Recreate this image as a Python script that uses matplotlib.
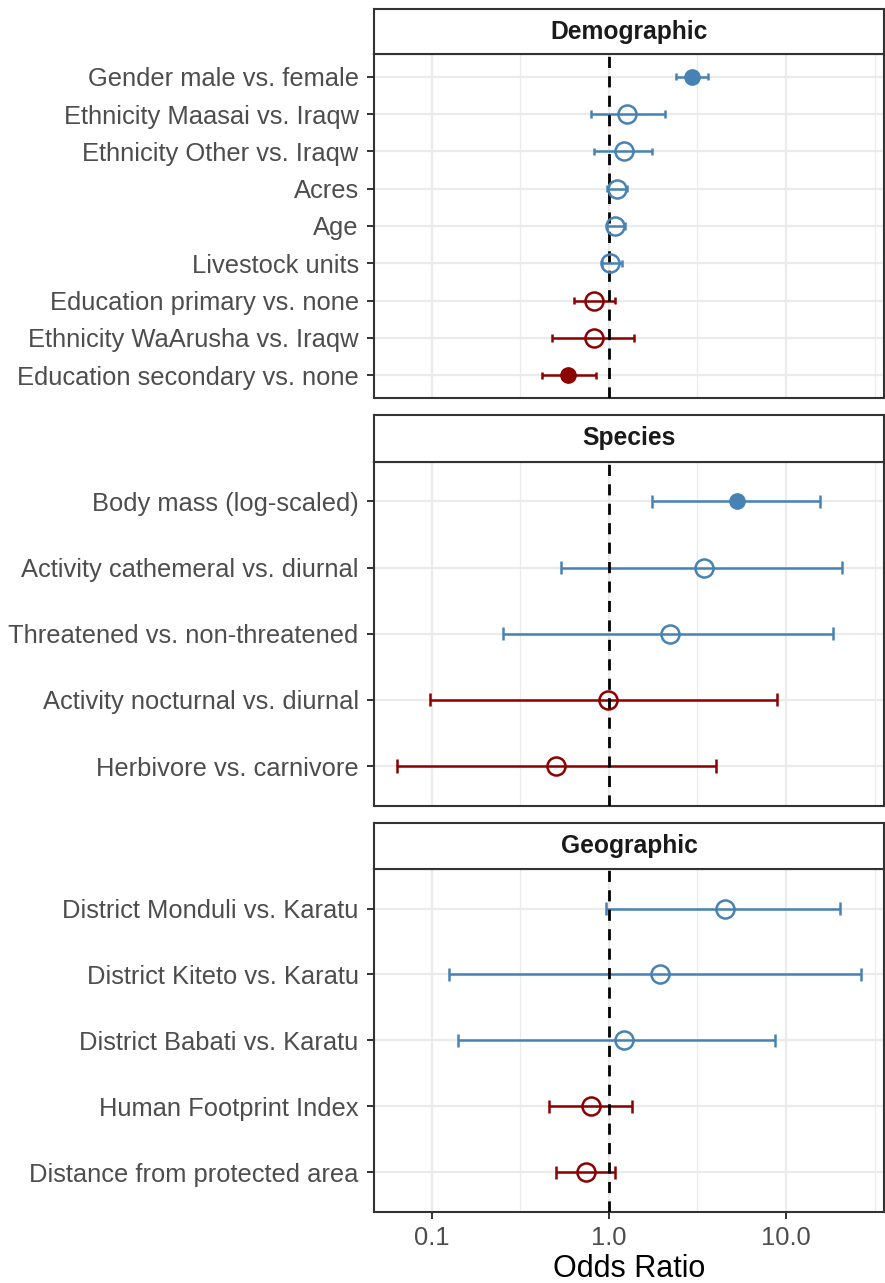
import matplotlib.pyplot as plt
from matplotlib.ticker import FixedLocator, NullFormatter
import numpy as np

plt.rcParams['font.family'] = ['Liberation Sans', 'DejaVu Sans']

# panel titles
groups = ['Demographic', 'Species', 'Geographic']

# labels listed top to bottom within each panel
demo_labels = ['Gender male vs. female', 'Ethnicity Maasai vs. Iraqw', 'Ethnicity Other vs. Iraqw',
               'Acres', 'Age', 'Livestock units', 'Education primary vs. none',
               'Ethnicity WaArusha vs. Iraqw', 'Education secondary vs. none']
demo_or = [2.95, 1.27, 1.21, 1.11, 1.09, 1.02, 0.83, 0.82, 0.59]
demo_lo = [2.39, 0.79, 0.82, 0.98, 0.98, 0.91, 0.635, 0.48, 0.417]
demo_hi = [3.65, 2.07, 1.76, 1.26, 1.23, 1.18, 1.09, 1.38, 0.85]
demo_sig = [True, False, False, False, False, False, False, False, True]

spec_labels = ['Body mass (log-scaled)', 'Activity cathemeral vs. diurnal',
               'Threatened vs. non-threatened', 'Activity nocturnal vs. diurnal',
               'Herbivore vs. carnivore']
spec_or = [5.27, 3.46, 2.20, 0.995, 0.505]
spec_lo = [1.75, 0.536, 0.252, 0.098, 0.0634]
spec_hi = [15.6, 20.6, 18.4, 8.86, 4.05]
spec_sig = [True, False, False, False, False]

geo_labels = ['District Monduli vs. Karatu', 'District Kiteto vs. Karatu',
              'District Babati vs. Karatu', 'Human Footprint Index',
              'Distance from protected area']
geo_or = [4.53, 1.95, 1.22, 0.79, 0.748]
geo_lo = [0.97, 0.126, 0.141, 0.459, 0.502]
geo_hi = [20.2, 26.5, 8.67, 1.35, 1.09]
geo_sig = [False, False, False, False, False]

panels = [
    (demo_labels, demo_or, demo_lo, demo_hi, demo_sig),
    (spec_labels, spec_or, spec_lo, spec_hi, spec_sig),
    (geo_labels, geo_or, geo_lo, geo_hi, geo_sig),
]

W, H = 885, 1283
fig = plt.figure(figsize=(W / 100, H / 100), dpi=100)

# pixel boxes (top of strip, strip bottom / panel top, panel bottom)
boxes = [(9.3, 54.3, 397.7), (415.0, 461.7, 805.7), (822.7, 869.0, 1211.7)]
left_px, right_px = 374, 884

blue = '#4682B4'
red = '#8B0000'
grid_c = '#EBEBEB'
border_c = '#333333'

for k, (name, (labels, ors, los, his, sig)) in enumerate(zip(groups, panels)):
    s_top, p_top, p_bot = boxes[k]
    x0 = left_px / W
    w = (right_px - left_px) / W
    ax = fig.add_axes([x0, 1 - p_bot / H, w, (p_bot - p_top) / H])
    sax = fig.add_axes([x0, 1 - p_top / H, w, (p_top - s_top) / H])

    n = len(labels)
    ypos = np.arange(n)[::-1]

    ax.set_xscale('log')
    ax.set_xlim(0.0473, 35.7)
    ax.set_ylim(-0.6, n - 1 + 0.6)

    # grid
    for v in [0.1, 1, 10]:
        ax.axvline(v, color=grid_c, lw=1.6, zorder=0)
    for v in [10 ** -0.5, 10 ** 0.5, 10 ** 1.5]:
        ax.axvline(v, color=grid_c, lw=0.9, zorder=0)
    for yv in ypos:
        ax.axhline(yv, color=grid_c, lw=1.6, zorder=0)

    for yv, o, lo, hi, sg in zip(ypos, ors, los, his, sig):
        c = blue if o > 1 else red
        ax.hlines(yv, lo, hi, color=c, lw=1.8, zorder=2)
        ax.vlines([lo, hi], yv - 0.1, yv + 0.1, color=c, lw=1.8, zorder=2)
        if sg:
            ax.plot(o, yv, 'o', ms=11, color=c, mec=c, zorder=4)
        else:
            ax.plot(o, yv, 'o', ms=13, mfc='none', mec=c, mew=1.8, zorder=4)

    ax.axvline(1, color='black', lw=2.0, ls=(0, (4, 3)), zorder=3)

    ax.set_yticks(ypos)
    ax.set_yticklabels(labels, fontsize=18.4, color='#4D4D4D')
    ax.xaxis.set_major_locator(FixedLocator([0.1, 1, 10]))
    ax.xaxis.set_minor_locator(FixedLocator([]))
    ax.xaxis.set_minor_formatter(NullFormatter())
    ax.tick_params(axis='y', length=5, width=1.4, color=border_c, pad=6)
    if k == len(groups) - 1:
        ax.set_xticklabels(['0.1', '1.0', '10.0'], fontsize=18.4, color='#4D4D4D')
        ax.tick_params(axis='x', length=5, width=1.4, color=border_c, pad=5)
    else:
        ax.tick_params(axis='x', length=0, labelbottom=False)

    for sp in ax.spines.values():
        sp.set_color(border_c)
        sp.set_linewidth(1.5)

    sax.set_xticks([])
    sax.set_yticks([])
    sax.set_facecolor('white')
    for sp in sax.spines.values():
        sp.set_color(border_c)
        sp.set_linewidth(1.5)
    sax.text(0.5, 0.5, name, ha='center', va='center', fontsize=17.7,
             fontweight='bold', color='#1A1A1A', transform=sax.transAxes)

fig.text((left_px + right_px) / 2 / W, 1 - 1277 / H, 'Odds Ratio', ha='center',
         va='baseline', fontsize=22, color='black')

fig.savefig('out.png', dpi=100)
